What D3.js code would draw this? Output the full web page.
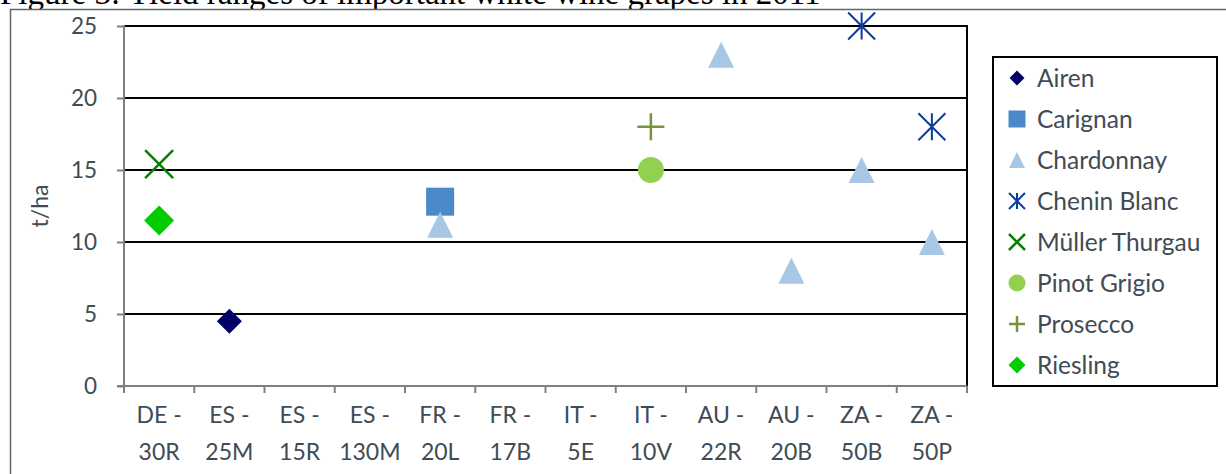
<!DOCTYPE html>
<html>
<head>
<meta charset="utf-8">
<script src="https://cdn.jsdelivr.net/npm/d3@7"></script>
<style>
  html, body { margin: 0; padding: 0; background: #fff; }
  svg { display: block; }
</style>
</head>
<body>
<svg id="chart" width="1226" height="474"></svg>
<script>
// Yield per vineyard site (t/ha), white wine grapes
const categories = ["DE - 30R", "ES - 25M", "ES - 15R", "ES - 130M", "FR - 20L", "FR - 17B",
                    "IT - 5E", "IT - 10V", "AU - 22R", "AU - 20B", "ZA - 50B", "ZA - 50P"];
const yTicks = [0, 5, 10, 15, 20, 25];

const airen         = [null, 4.5, null, null, null, null, null, null, null, null, null, null];
const carignan      = [null, null, null, null, 12.8, null, null, null, null, null, null, null];
const chardonnay    = [null, null, null, null, 11.2, null, null, null, 23, 8, 15, 10];
const cheninBlanc   = [null, null, null, null, null, null, null, null, null, null, 25, 18];
const mullerThurgau = [15.4, null, null, null, null, null, null, null, null, null, null, null];
const pinotGrigio   = [null, null, null, null, null, null, null, 15, null, null, null, null];
const prosecco      = [null, null, null, null, null, null, null, 18, null, null, null, null];
const riesling      = [11.5, null, null, null, null, null, null, null, null, null, null, null];

const seriesNames = ["Airen", "Carignan", "Chardonnay", "Chenin Blanc", "Müller Thurgau",
                     "Pinot Grigio", "Prosecco", "Riesling"];
const seriesValues = [airen, carignan, chardonnay, cheninBlanc, mullerThurgau, pinotGrigio, prosecco, riesling];

// marker shape per series, with plot size and legend size (px)
const styles = [
  { shape: "diamond",  color: "#000066", size: 25, legendSize: 15, width: 2.5 },
  { shape: "square",   color: "#4a8ac8", size: 28, legendSize: 17, width: 2.5 },
  { shape: "triangle", color: "#a7c7e5", size: 26, legendSize: 16, width: 2.5 },
  { shape: "star",     color: "#0c3d9e", size: 27, legendSize: 16, width: 2 },
  { shape: "cross",    color: "#078007", size: 28, legendSize: 16, width: 2.5 },
  { shape: "circle",   color: "#92d050", size: 26, legendSize: 17, width: 2.5 },
  { shape: "plus",     color: "#77933c", size: 27, legendSize: 16, width: 2.5 },
  { shape: "diamond",  color: "#00cc00", size: 30, legendSize: 17, width: 2.5 }
];

const textColor = "#404b55";
const font = "Lato, 'Open Sans', sans-serif";

// path for a marker of given shape, centred at 0,0, with full width s
function markerPath(shape, s) {
  const h = s / 2;
  switch (shape) {
    case "diamond":  return `M0,${-h}L${h},0L0,${h}L${-h},0Z`;
    case "square":   return `M${-h},${-h}H${h}V${h}H${-h}Z`;
    case "triangle": return `M0,${-h}L${h},${h}L${-h},${h}Z`;
    case "circle":   return d3.symbol(d3.symbolCircle, Math.PI * h * h)();
    case "cross":    return `M${-h},${-h}L${h},${h}M${-h},${h}L${h},${-h}`;
    case "plus":     return `M${-h},0H${h}M0,${-h}V${h}`;
    case "star":     return `M${-h},${-h}L${h},${h}M${-h},${h}L${h},${-h}M0,${-h}V${h}`;
  }
}
const filled = s => ["diamond", "square", "triangle", "circle"].includes(s);

const svg = d3.select("#chart");

// caption above the chart frame
svg.append("text")
  .attr("x", 0).attr("y", 4)
  .attr("font-family", "'Liberation Serif', 'Times New Roman', serif")
  .attr("font-size", 33)
  .attr("fill", "#000")
  .text("Figure 3: Yield ranges of important white wine grapes in 2011");

// outer chart frame
svg.append("rect")
  .attr("x", 10.5).attr("y", 9.5).attr("width", 1300).attr("height", 500)
  .attr("fill", "#fff")
  .attr("stroke", "#5d6a6a")
  .attr("stroke-width", 1.5);

const plot = { left: 124, right: 967, top: 26, bottom: 386 };

const x = d3.scaleBand().domain(categories).range([plot.left, plot.right]);
const y = d3.scaleLinear().domain([0, 25]).range([plot.bottom, plot.top]);

// horizontal gridlines
svg.append("g").selectAll("line").data(yTicks.filter(t => t > 0)).join("line")
  .attr("x1", plot.left).attr("x2", plot.right)
  .attr("y1", d => y(d)).attr("y2", d => y(d))
  .attr("stroke", "#000").attr("stroke-width", 2);

// right border of plot area
svg.append("line")
  .attr("x1", plot.right).attr("x2", plot.right)
  .attr("y1", plot.top - 1).attr("y2", plot.bottom)
  .attr("stroke", "#000").attr("stroke-width", 2);

// y axis
const yAxis = svg.append("g")
  .attr("transform", `translate(${plot.left},0)`)
  .call(d3.axisLeft(y).tickValues(yTicks).tickSize(7).tickPadding(20));
yAxis.select(".domain").attr("stroke", "#808080").attr("stroke-width", 2)
  .attr("d", `M0,${plot.top - 1}V${plot.bottom}`);
yAxis.selectAll(".tick line").attr("stroke", "#808080").attr("stroke-width", 2);
yAxis.selectAll(".tick text")
  .attr("font-family", font).attr("font-size", 22.5).attr("fill", textColor);

// x axis with ticks at category boundaries
const xAxis = svg.append("g")
  .attr("transform", `translate(0,${plot.bottom})`);
xAxis.append("line")
  .attr("x1", plot.left - 7).attr("x2", plot.right)
  .attr("stroke", "#808080").attr("stroke-width", 2);
const bounds = categories.map(c => x(c)).concat([x(categories[categories.length - 1]) + x.bandwidth()]);
xAxis.selectAll("line.tick").data(bounds).join("line")
  .attr("class", "tick")
  .attr("x1", d => d).attr("x2", d => d)
  .attr("y1", 0).attr("y2", 7)
  .attr("stroke", "#808080").attr("stroke-width", 2);
const xLabels = xAxis.selectAll("text").data(categories).join("text")
  .attr("font-family", font).attr("font-size", 23).attr("fill", textColor)
  .attr("text-anchor", "middle");
xLabels.each(function(d) {
  const parts = d.split(" - ");
  const t = d3.select(this);
  const cx = x(d) + x.bandwidth() / 2;
  t.append("tspan").attr("x", cx).attr("y", 37).text(parts[0] + " -");
  t.append("tspan").attr("x", cx).attr("y", 74).text(parts[1]);
});

// y axis title
svg.append("text")
  .attr("transform", "translate(48,206) rotate(-90)")
  .attr("text-anchor", "middle")
  .attr("font-family", font).attr("font-size", 23).attr("fill", textColor)
  .text("t/ha");

// data markers
seriesNames.forEach((name, i) => {
  const st = styles[i];
  const pts = seriesValues[i]
    .map((v, j) => ({ cat: categories[j], value: v }))
    .filter(d => d.value !== null);
  svg.append("g").attr("class", "series").selectAll("path").data(pts).join("path")
    .attr("transform", d => `translate(${x(d.cat) + x.bandwidth() / 2},${y(d.value)})`)
    .attr("d", markerPath(st.shape, st.size))
    .attr("fill", filled(st.shape) ? st.color : "none")
    .attr("stroke", filled(st.shape) ? "none" : st.color)
    .attr("stroke-width", st.width);
});

// legend
const legend = svg.append("g");
legend.append("rect")
  .attr("x", 993).attr("y", 57).attr("width", 224).attr("height", 329)
  .attr("fill", "#fff").attr("stroke", "#000").attr("stroke-width", 2);
const items = legend.selectAll("g.item").data(seriesNames).join("g")
  .attr("class", "item")
  .attr("transform", (d, i) => `translate(1017,${78 + i * 41})`);
items.append("path")
  .attr("d", (d, i) => markerPath(styles[i].shape, styles[i].legendSize))
  .attr("fill", (d, i) => filled(styles[i].shape) ? styles[i].color : "none")
  .attr("stroke", (d, i) => filled(styles[i].shape) ? "none" : styles[i].color)
  .attr("stroke-width", (d, i) => styles[i].width);
items.append("text")
  .attr("x", 20).attr("dy", "0.35em")
  .attr("font-family", font).attr("font-size", 24.5).attr("fill", textColor)
  .text(d => d);
</script>
</body>
</html>
